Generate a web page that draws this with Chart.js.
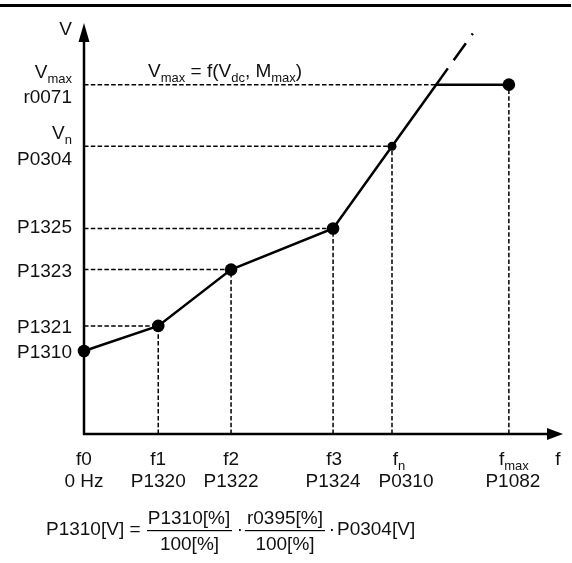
<!DOCTYPE html>
<html>
<head>
<meta charset="utf-8">
<title>V/f characteristic</title>
<script src="https://cdn.jsdelivr.net/npm/chart.js@4.4.1/dist/chart.umd.min.js"></script>
<style>
  html, body { margin: 0; padding: 0; background: #fff; }
  #wrap { width: 572px; height: 563px; }
</style>
</head>
<body>
<div id="wrap"><canvas id="myChart" width="572" height="563"></canvas></div>
<script>
// corner points of the characteristic, both axes run 0..100
const fPoints = [0, 15.5, 30.7, 52, 64.3, 88.7];   // f0, f1, f2, f3, fn, fmax
const vPoints = [20.2, 26.3, 40, 50, 70, 85];      // P1310, P1321, P1323, P1325, Vn, Vmax
const vExtEnd = 97.8;                              // end of the dashed continuation

const xLabelsTop = ['f0', 'f1', 'f2', 'f3', 'f_n', 'f_max'];
const xLabelsBottom = ['0 Hz', 'P1320', 'P1322', 'P1324', 'P0310', 'P1082'];
const yLabelsTop = ['P1310', 'P1321', 'P1323', 'P1325', 'V_n', 'V_max'];
const yLabelsBottom = ['', '', '', '', 'P0304', 'r0071'];

const FONT = '"Liberation Sans", Arial, sans-serif';
const INK = '#111';

// the straight part through f3 and fn meets Vmax and goes on dashed
const slope = (vPoints[4] - vPoints[3]) / (fPoints[4] - fPoints[3]);
const fCross = fPoints[4] + (vPoints[5] - vPoints[4]) / slope;
const fExtEnd = fPoints[4] + (vExtEnd - vPoints[4]) / slope;

const curve = [];
for (let i = 0; i < 5; i++) curve.push({ x: fPoints[i], y: vPoints[i] });
curve.push({ x: fCross, y: vPoints[5] });
curve.push({ x: fPoints[5], y: vPoints[5] });

const guideSets = [];
for (let i = 1; i < fPoints.length; i++) {
  const hEnd = i === 5 ? fCross : fPoints[i];
  guideSets.push([{ x: 0, y: vPoints[i] }, { x: hEnd, y: vPoints[i] }]);
  guideSets.push([{ x: fPoints[i], y: 0 }, { x: fPoints[i], y: vPoints[i] }]);
}

const datasets = [
  {
    data: curve,
    borderColor: '#000',
    backgroundColor: '#000',
    borderWidth: 2.5,
    pointRadius: [6.3, 6.3, 6.3, 6.3, 4.5, 0, 6.3],
    pointBorderWidth: 0,
    clip: false,
  },
  {
    data: [{ x: fCross, y: vPoints[5] }, { x: fExtEnd, y: vExtEnd }],
    borderColor: '#000',
    borderWidth: 2.5,
    borderDash: [20, 10, 21, 10, 2],
    pointRadius: 0,
    clip: false,
  },
];
guideSets.forEach(function (d) {
  datasets.push({
    data: d,
    borderColor: '#000',
    borderWidth: 1.5,
    borderDash: [4.5, 2.3],
    pointRadius: 0,
    clip: false,
  });
});

// text with an optional subscript: 'V_max'
function subText(ctx, text, x, y, align, size, subSize) {
  const parts = text.split('_');
  ctx.font = size + 'px ' + FONT;
  const w1 = ctx.measureText(parts[0]).width;
  let w2 = 0;
  if (parts[1]) {
    ctx.font = subSize + 'px ' + FONT;
    w2 = ctx.measureText(parts[1]).width;
  }
  const total = w1 + w2;
  let x0 = x;
  if (align === 'right') x0 = x - total;
  if (align === 'center') x0 = x - total / 2;
  ctx.textAlign = 'left';
  ctx.font = size + 'px ' + FONT;
  ctx.fillText(parts[0], x0, y);
  if (parts[1]) {
    ctx.font = subSize + 'px ' + FONT;
    ctx.fillText(parts[1], x0 + w1, y + 5);
  }
}

function runText(ctx, segs, x, y) {
  segs.forEach(function (s) {
    const size = s[1] ? 13 : 19;
    ctx.font = size + 'px ' + FONT;
    ctx.fillText(s[0], x, y + (s[1] ? 5 : 0));
    x += ctx.measureText(s[0]).width;
  });
}

const drawing = {
  id: 'drawing',
  afterDatasetsDraw(chart) {
    const ctx = chart.ctx;
    const xs = chart.scales.x;
    const ys = chart.scales.y;
    const x0 = xs.getPixelForValue(0);
    const y0 = ys.getPixelForValue(0);
    const xTip = xs.getPixelForValue(100);
    const yTip = ys.getPixelForValue(100);

    ctx.save();
    ctx.fillStyle = '#000';
    ctx.fillRect(0, 4, 571, 3);

    // axes with arrows
    ctx.strokeStyle = '#000';
    ctx.lineWidth = 2.5;
    ctx.beginPath();
    ctx.moveTo(x0, y0);
    ctx.lineTo(x0, yTip + 10);
    ctx.moveTo(x0 - 1.2, y0);
    ctx.lineTo(xTip - 10, y0);
    ctx.stroke();
    ctx.beginPath();
    ctx.moveTo(x0, yTip);
    ctx.lineTo(x0 - 5.5, yTip + 19);
    ctx.lineTo(x0 + 5.5, yTip + 19);
    ctx.closePath();
    ctx.moveTo(xTip, y0);
    ctx.lineTo(xTip - 16, y0 - 6);
    ctx.lineTo(xTip - 16, y0 + 6);
    ctx.closePath();
    ctx.fill();

    ctx.fillStyle = INK;
    ctx.textBaseline = 'alphabetic';

    // y labels
    for (let i = 0; i < vPoints.length; i++) {
      const py = ys.getPixelForValue(vPoints[i]);
      if (yLabelsBottom[i]) {
        subText(ctx, yLabelsTop[i], 72, py - 7, 'right', 19, 13);
        subText(ctx, yLabelsBottom[i], 72, py + 18.5, 'right', 19, 13);
      } else {
        const lift = i === 3 ? 2.5 : 0;
        subText(ctx, yLabelsTop[i], 72, py + 7 - lift, 'right', 19, 13);
      }
    }
    subText(ctx, 'V', 72, yTip + 12, 'right', 19, 13);

    // x labels
    const shiftTop = [0, 0, 0, 1, 7, 5];
    const shiftBottom = [0, 0, 0, 0, 14, 4];
    for (let i = 0; i < fPoints.length; i++) {
      const px = xs.getPixelForValue(fPoints[i]);
      subText(ctx, xLabelsTop[i], px + shiftTop[i], y0 + 31, 'center', 19, 13);
      subText(ctx, xLabelsBottom[i], px + shiftBottom[i], y0 + 53, 'center', 19, 13);
    }
    subText(ctx, 'f', 558, y0 + 31, 'center', 19, 13);

    // Vmax note
    runText(ctx, [['V', 0], ['max', 1], [' = f(', 0], ['V', 0], ['dc', 1], [', M', 0], ['max', 1], [')', 0]], 148, 77);

    // formula under the chart
    ctx.font = '19px ' + FONT;
    ctx.textAlign = 'left';
    ctx.fillText('P1310[V] =', 46, 535);
    ctx.textAlign = 'center';
    ctx.fillText('P1310[%]', 189, 524);
    ctx.fillText('100[%]', 189.5, 550);
    ctx.fillText('\u00b7', 240, 535);
    ctx.fillText('r0395[%]', 285, 524);
    ctx.fillText('100[%]', 285, 550);
    ctx.fillText('\u00b7', 332, 535);
    ctx.textAlign = 'left';
    ctx.fillText('P0304[V]', 337, 535);
    ctx.fillStyle = '#000';
    ctx.fillRect(147, 530, 85, 1.2);
    ctx.fillRect(245, 530, 80, 1.2);
    ctx.restore();
  },
};

const ctx = document.getElementById('myChart').getContext('2d');
const myChart = new Chart(ctx, {
  type: 'line',
  data: { datasets: datasets },
  options: {
    responsive: false,
    animation: false,
    layout: { padding: { left: 84, right: 9, top: 23, bottom: 129 } },
    plugins: { legend: { display: false }, tooltip: { enabled: false } },
    scales: {
      x: { type: 'linear', min: 0, max: 100, display: false },
      y: { type: 'linear', min: 0, max: 100, display: false },
    },
  },
  plugins: [drawing],
});
</script>
</body>
</html>
